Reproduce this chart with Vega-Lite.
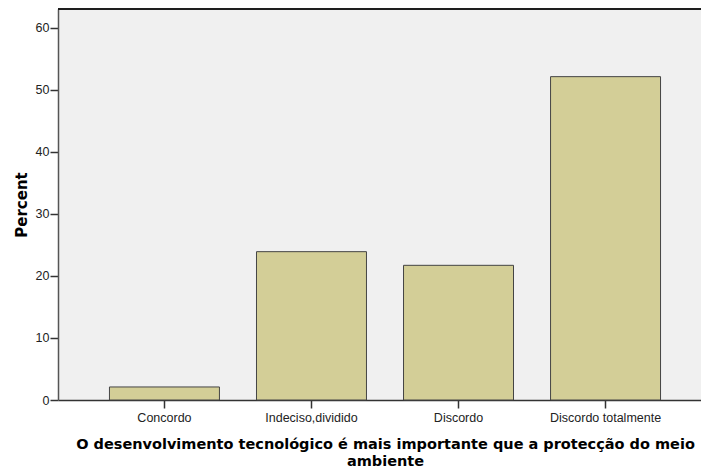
{
  "$schema": "https://vega.github.io/schema/vega-lite/v6.json",
  "autosize": "none",
  "padding": {"left": 58, "top": 9, "right": 0, "bottom": 76},
  "width": 654,
  "height": 391,
  "background": "white",
  "config": {
    "font": "Liberation Sans",
    "view": {"fill": "#f0f0f0", "stroke": null}
  },
  "data": {
    "values": [
      {"category": "Concordo", "percent": 2.1},
      {"category": "Indeciso,dividido", "percent": 23.9},
      {"category": "Discordo", "percent": 21.7},
      {"category": "Discordo totalmente", "percent": 52.1}
    ]
  },
  "layer": [
    {
      "mark": {"type": "bar", "fill": "#d3ce97", "stroke": "#444", "strokeWidth": 1},
      "encoding": {
        "x": {
          "field": "category",
          "type": "nominal",
          "sort": null,
          "scale": {"paddingInner": 0.252, "paddingOuter": 0.35},
          "axis": {
            "title": ["O desenvolvimento tecnológico é mais importante que a protecção do meio", "ambiente"],
            "titleFont": "DejaVu Sans",
            "titleFontSize": 14.5,
            "titleFontWeight": "bold",
            "titleColor": "#000",
            "titleLineHeight": 17,
            "titlePadding": 14,
            "labelAngle": 0,
            "labelFontSize": 12.5,
            "labelColor": "#222",
            "labelPadding": 3,
            "tickColor": "#333",
            "tickSize": 8,
            "tickWidth": 1.5,
            "domainColor": "#333",
            "domainWidth": 1.5
          }
        },
        "y": {
          "field": "percent",
          "type": "quantitative",
          "scale": {"domain": [0, 63], "nice": false},
          "axis": {
            "title": "Percent",
            "titleFont": "DejaVu Sans",
            "titleFontSize": 15,
            "titleFontWeight": "bold",
            "titleColor": "#000",
            "titlePadding": 6,
            "values": [0, 10, 20, 30, 40, 50, 60],
            "labelFontSize": 12.5,
            "labelColor": "#222",
            "labelPadding": 1,
            "tickColor": "#333",
            "tickSize": 8,
            "tickWidth": 1.5,
            "domainColor": "#555",
            "domainWidth": 1.5,
            "grid": false
          }
        }
      }
    },
    {
      "mark": {"type": "rule", "color": "#111", "strokeWidth": 1.2},
      "encoding": {"y": {"datum": 63}}
    }
  ]
}
